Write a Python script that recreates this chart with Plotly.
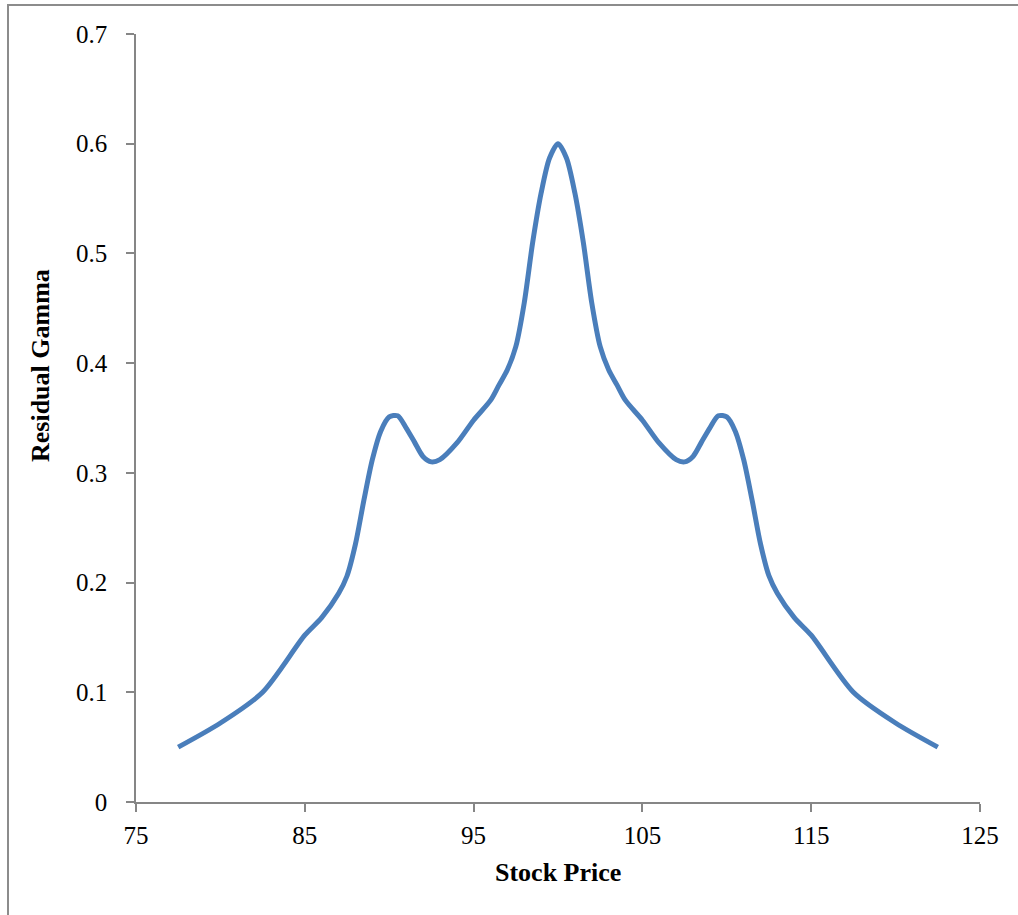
import plotly.graph_objects as go

stock_price = [77.5, 80, 82.5, 85, 86, 87, 87.5, 88, 88.5, 89, 89.5, 90, 90.5, 91, 91.5,
               92, 92.5, 93, 94, 95, 96, 96.5, 97, 97.5, 98, 98.5, 99, 99.5, 100,
               100.5, 101, 101.5, 102, 102.5, 103, 103.5, 104, 105, 106, 107, 107.5, 108,
               108.5, 109, 109.5, 110, 110.5, 111, 111.5, 112, 112.5, 113, 114, 115,
               117.5, 120, 122.5]
residual_gamma = [0.050, 0.072, 0.100, 0.152, 0.168, 0.190, 0.206, 0.235, 0.275, 0.312, 0.338,
                  0.351, 0.352, 0.341, 0.328, 0.315, 0.310, 0.312, 0.327, 0.348, 0.366, 0.380,
                  0.394, 0.415, 0.455, 0.510, 0.555, 0.587, 0.600,
                  0.587, 0.555, 0.510, 0.455, 0.415, 0.394, 0.380, 0.366, 0.348, 0.327, 0.312,
                  0.310, 0.315, 0.328, 0.341, 0.352, 0.351, 0.338, 0.312, 0.275, 0.235, 0.206,
                  0.190, 0.168, 0.152, 0.100, 0.072, 0.050]

x_ticks = [75, 85, 95, 105, 115, 125]
y_ticks = [0, 0.1, 0.2, 0.3, 0.4, 0.5, 0.6, 0.7]
y_tick_labels = ["0", "0.1", "0.2", "0.3", "0.4", "0.5", "0.6", "0.7"]

W, H = 1018, 915
ml, mr, mt, mb = 136, 38, 34, 113
pw, ph = W - ml - mr, H - mt - mb

fig = go.Figure()
fig.add_trace(go.Scatter(
    x=stock_price, y=residual_gamma, mode="lines",
    line=dict(color="#4A7EBB", width=5, shape="spline", smoothing=0.8),
    showlegend=False, hoverinfo="skip"))

axis_common = dict(showline=True, linecolor="#868686", linewidth=1.5,
                   ticks="outside", tickcolor="#868686", ticklen=8, tickwidth=1.5,
                   showgrid=False, zeroline=False,
                   tickfont=dict(family="Liberation Serif", size=25, color="black"))

fig.update_xaxes(range=[75, 125], tickvals=x_ticks, ticktext=[str(v) for v in x_ticks],
                 ticklabelstandoff=2, **axis_common)
fig.update_yaxes(range=[0, 0.7], tickvals=y_ticks, ticktext=y_tick_labels,
                 ticklabelstandoff=14, **axis_common)

# axis titles
fig.add_annotation(text="<b>Stock Price</b>", xref="paper", yref="paper",
                   x=0.5, y=(H - mb - 872) / ph, xanchor="center", yanchor="middle",
                   showarrow=False, font=dict(family="Liberation Serif", size=26, color="black"))
fig.add_annotation(text="<b>Residual Gamma</b>", xref="paper", yref="paper",
                   x=(40 - ml) / pw, y=(H - mb - 366) / ph, xanchor="center", yanchor="middle",
                   textangle=-90, showarrow=False,
                   font=dict(family="Liberation Serif", size=26, color="black"))

# outer chart frame (partially visible)
x0 = (8 - ml) / pw
y1 = (H - mb - 5) / ph
x1 = (W + 20 - ml) / pw
y0 = (H - mb - (H + 20)) / ph
fig.add_shape(type="rect", xref="paper", yref="paper", x0=x0, x1=x1, y0=y0, y1=y1,
              line=dict(color="#8C8C8C", width=2), layer="below")

fig.update_layout(width=W, height=H, margin=dict(l=ml, r=mr, t=mt, b=mb),
                  paper_bgcolor="white", plot_bgcolor="white",
                  font=dict(family="Liberation Serif", color="black"))

fig.write_html("out.html")
